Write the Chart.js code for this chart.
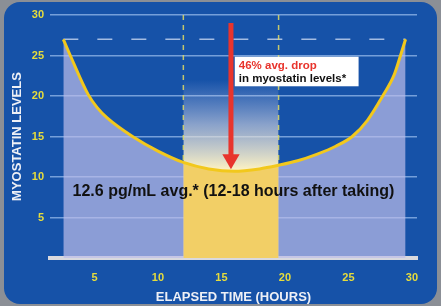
<!DOCTYPE html>
<html>
<head>
<meta charset="utf-8">
<script src="https://cdn.jsdelivr.net/npm/chart.js@4"></script>
<style>
  html, body { margin: 0; padding: 0; background: #8b8f96; }
  #wrap { width: 441px; height: 306px; }
</style>
</head>
<body>
<div id="wrap"><canvas id="chart"></canvas></div>
<script>
// values
var hours  = [2.55, 3.1, 4.5, 5.2, 6, 8, 10, 12, 14, 16, 18, 19.5, 21, 22.5, 24, 25.3, 26.5, 27.7, 28.6, 29.1, 29.5];
var levels = [27, 25, 20.2, 18.6, 17.3, 15, 13.2, 11.8, 11.0, 10.7, 11.0, 11.45, 12.0, 12.8, 13.8, 15, 17, 20, 22.6, 25, 27];
var windowHours = [12, 19.5];   // shaded window after taking
var peakLevel = 27;             // dashed reference line
var dropHour = 15.75;           // red arrow
var dropFrom = 29;
var dropTo = 12.2;
var xTicks = [5, 10, 15, 20, 25, 30];
var yTicks = [5, 10, 15, 20, 25, 30];

var FONT = "'Liberation Sans Narrow', 'Liberation Sans', Arial, sans-serif";
var BOLD = "'Liberation Sans', Arial, sans-serif";

var curve = hours.map(function (h, i) { return { x: h, y: levels[i] }; });
var windowPts = curve.filter(function (p) { return p.x >= windowHours[0] && p.x <= windowHours[1]; });

function bandGradient(c) {
  var ch = c.chart;
  if (!ch.chartArea) return 'transparent';
  var y = ch.scales.y;
  var g = ch.ctx.createLinearGradient(0, y.getPixelForValue(22), 0, y.getPixelForValue(11));
  g.addColorStop(0, 'rgba(190,200,235,0)');
  g.addColorStop(0.2, 'rgba(200,205,232,0.25)');
  g.addColorStop(0.5, 'rgba(215,215,225,0.6)');
  g.addColorStop(1, 'rgba(250,240,195,1)');
  return g;
}

// dark blue rounded panel
var panel = {
  id: 'panel',
  beforeDraw: function (chart) {
    var ctx = chart.ctx;
    ctx.save();
    ctx.fillStyle = '#8b8f96';
    ctx.fillRect(0, 0, chart.width, chart.height);
    ctx.fillStyle = '#1652a8';
    ctx.beginPath();
    ctx.roundRect(4, 2, chart.width - 8, chart.height - 4, 16);
    ctx.fill();
    ctx.restore();
  }
};

// text box and caption
var notes = {
  id: 'notes',
  afterDatasetsDraw: function (chart) {
    var ctx = chart.ctx, x = chart.scales.x, y = chart.scales.y;
    ctx.save();
    var bx = x.getPixelForValue(16.05), by = y.getPixelForValue(24.85);
    var bw = x.getPixelForValue(25.8) - bx, bh = y.getPixelForValue(21.2) - by;
    ctx.fillStyle = '#ffffff';
    ctx.fillRect(bx, by, bw, bh);
    ctx.textAlign = 'left';
    ctx.textBaseline = 'middle';
    ctx.font = 'bold 11.5px ' + BOLD;
    ctx.fillStyle = '#e8342c';
    ctx.fillText('46% avg. drop', bx + 4, by + 9);
    ctx.fillStyle = '#111111';
    ctx.fillText('in myostatin levels*', bx + 4, by + 22);

    ctx.textAlign = 'center';
    ctx.font = 'bold 16px ' + BOLD;
    ctx.fillStyle = '#111111';
    ctx.fillText('12.6 pg/mL avg.* (12-18 hours after taking)', x.getPixelForValue(15.95), y.getPixelForValue(8.2));
    ctx.restore();
  }
};

var ctx = document.getElementById('chart').getContext('2d');
var myChart = new Chart(ctx, {
  type: 'line',
  data: {
    datasets: [
      {
        data: [{ x: windowHours[0], y: 22 }, { x: windowHours[1], y: 22 }],
        borderWidth: 0, pointRadius: 0, fill: 'origin',
        backgroundColor: bandGradient, order: 6
      },
      {
        data: curve, borderWidth: 0, pointRadius: 0, fill: 'origin',
        backgroundColor: 'rgba(190,190,234,0.7)', cubicInterpolationMode: 'monotone', order: 5
      },
      {
        data: windowPts, borderWidth: 0, pointRadius: 0, fill: 'origin',
        backgroundColor: 'rgba(244,207,92,0.93)', cubicInterpolationMode: 'monotone', order: 4
      },
      {
        data: [{ x: windowHours[0], y: 30 }, { x: windowHours[0], y: 11.6 }],
        borderColor: 'rgba(225,220,100,0.85)', borderWidth: 1.5, borderDash: [5, 5], pointRadius: 0, fill: false, order: 3
      },
      {
        data: [{ x: windowHours[1], y: 30 }, { x: windowHours[1], y: 11.6 }],
        borderColor: 'rgba(225,220,100,0.85)', borderWidth: 1.5, borderDash: [5, 5], pointRadius: 0, fill: false, order: 3
      },
      {
        data: [{ x: hours[0], y: peakLevel }, { x: hours[hours.length - 1], y: peakLevel }],
        borderColor: 'rgba(200,215,240,0.8)', borderWidth: 1.5, borderDash: [15, 19], pointRadius: 0, fill: false, order: 3
      },
      {
        data: curve, borderColor: '#f2c81c', borderWidth: 3, pointRadius: 0, fill: false,
        cubicInterpolationMode: 'monotone', order: 2
      },
      {
        data: [{ x: dropHour, y: dropFrom }, { x: dropHour, y: dropTo }],
        borderColor: '#e8342c', borderWidth: 5, fill: false,
        pointRadius: [0, 10], pointStyle: 'triangle', rotation: 180,
        pointBackgroundColor: '#e8342c', pointBorderWidth: 0, order: 1
      }
    ]
  },
  options: {
    responsive: true,
    maintainAspectRatio: false,
    animation: false,
    layout: { padding: { left: 0, top: 15, right: 24, bottom: 0 } },
    plugins: { legend: { display: false }, tooltip: { enabled: false } },
    scales: {
      x: {
        type: 'linear', min: 1.5, max: 30.4,
        afterBuildTicks: function (s) { s.ticks = xTicks.map(function (v) { return { value: v }; }); },
        afterFit: function (s) { s.height = 48; },
        grid: { display: false, drawTicks: false },
        border: { color: '#d9d9de', width: 4 },
        ticks: { color: '#e6dc3c', padding: 13, font: { family: FONT, size: 11, weight: 'bold' } },
        title: {
          display: true, text: 'ELAPSED TIME (HOURS)', color: '#eef0f6',
          font: { family: FONT, size: 13, weight: 'bold' }, padding: { top: 0, bottom: 1 }
        }
      },
      y: {
        min: 0, max: 30,
        afterBuildTicks: function (s) { s.ticks = yTicks.map(function (v) { return { value: v }; }); },
        afterFit: function (s) { s.width = 50; },
        grid: { color: 'rgba(150,185,235,0.75)', lineWidth: 1.5, drawTicks: false },
        border: { display: false },
        ticks: { color: '#e6dc3c', padding: 6, font: { family: FONT, size: 11, weight: 'bold' } },
        title: {
          display: true, text: 'MYOSTATIN LEVELS', color: '#eef0f6',
          font: { family: FONT, size: 13, weight: 'bold' }, padding: { top: 10, bottom: 0 }
        }
      }
    }
  },
  plugins: [panel, notes]
});
</script>
</body>
</html>
